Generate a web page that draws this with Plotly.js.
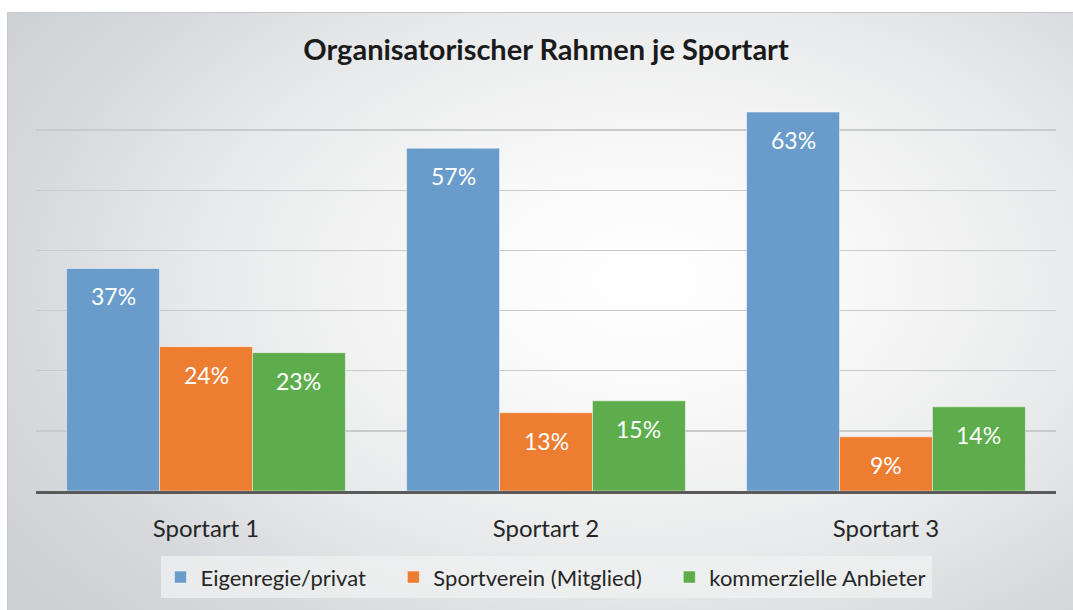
<!DOCTYPE html>
<html>
<head>
<meta charset="utf-8">
<script src="https://cdn.plot.ly/plotly-3.0.1.min.js"></script>
<style>
  html, body { margin:0; padding:0; background:#ffffff; }
  #wrap { position:relative; width:1073px; height:610px; overflow:hidden; background:#ffffff; }
  #frame { position:absolute; left:7px; top:12px; right:0; bottom:0;
    border-top:1px solid #c6c7c9; border-left:1px solid #c6c7c9;
    background: radial-gradient(ellipse 75% 85% at 60% 45%, #ffffff 0%, #fafafa 22%, #e9eaeb 55%, #d6d8db 80%, #cdd0d3 100%); }
  #chart { position:absolute; left:0; top:0; width:1073px; height:610px; }
</style>
</head>
<body>
<div id="wrap">
  <div id="frame"></div>
  <div id="chart"></div>
</div>
<script>
const categories = ["Sportart 1", "Sportart 2", "Sportart 3"];
const seriesNames = ["Eigenregie/privat", "Sportverein (Mitglied)", "kommerzielle Anbieter"];
const eigenregie = [0.37, 0.57, 0.63];
const sportverein = [0.24, 0.13, 0.09];
const kommerziell = [0.23, 0.15, 0.14];
const seriesColors = ["#699CCB", "#ED7D31", "#5EAD4C"];
const gridTicks = [0.1, 0.2, 0.3, 0.4, 0.5, 0.6];

const allSeries = [eigenregie, sportverein, kommerziell];
const pad = "\u00a0\u00a0\u00a0\u00a0";
const traces = allSeries.map((vals, i) => ({
  type: "bar",
  name: seriesNames[i] + (i < allSeries.length - 1 ? pad : ""),
  x: categories,
  y: vals,
  marker: { color: seriesColors[i], line: { color: "rgba(255,255,255,0.45)", width: 1 } },
  hoverinfo: "none"
}));

const W = 1073, H = 610;
const mL = 36, mR = 17, mT = 70, mB = 117;
const plotW = W - mL - mR;
const catW = plotW / categories.length;
const bargap = 0.18;
const barW = catW * (1 - bargap) / allSeries.length;

const annotations = [];
allSeries.forEach((vals, i) => {
  vals.forEach((v, j) => {
    annotations.push({
      x: categories[j], y: v, xref: "x", yref: "y",
      text: Math.round(v * 100) + "%",
      showarrow: false,
      xshift: (i - 1) * barW,
      yanchor: "middle",
      yshift: -28,
      font: { family: "Lato, 'Open Sans', sans-serif", size: 23, color: "#ffffff" }
    });
  });
});

const layout = {
  width: W, height: H,
  margin: { l: mL, r: mR, t: mT, b: mB },
  paper_bgcolor: "rgba(0,0,0,0)",
  plot_bgcolor: "rgba(0,0,0,0)",
  barmode: "group",
  bargap: bargap,
  bargroupgap: 0,
  title: {
    text: "<b>Organisatorischer Rahmen je Sportart</b>",
    x: 0.5, xref: "paper", xanchor: "center",
    y: 1 - 50 / H, yref: "container", yanchor: "middle",
    font: { family: "Lato, 'Open Sans', sans-serif", size: 29, color: "#1a1a1a" }
  },
  xaxis: {
    type: "category",
    showline: true, linecolor: "#5a5a5a", linewidth: 3,
    ticks: "outside", ticklen: 14, tickcolor: "rgba(0,0,0,0)",
    tickfont: { family: "Lato, 'Open Sans', sans-serif", size: 24, color: "#262626" },
    showgrid: false, zeroline: false, fixedrange: true
  },
  yaxis: {
    range: [0, 0.7],
    tickvals: gridTicks,
    showticklabels: false,
    showgrid: true, gridcolor: "#c9cacc", gridwidth: 1.5,
    zeroline: false, showline: false, ticks: "", fixedrange: true
  },
  legend: {
    orientation: "h",
    x: 0.5, xanchor: "center", xref: "paper",
    y: -0.155, yanchor: "top",
    bgcolor: "rgba(240,241,242,0.75)",
    font: { family: "Lato, 'Open Sans', sans-serif", size: 22, color: "#262626" },
    itemwidth: 30,
    traceorder: "normal"
  },
  annotations: annotations,
  showlegend: true
};

Plotly.newPlot("chart", traces, layout, { displayModeBar: false, staticPlot: true });
</script>
</body>
</html>
